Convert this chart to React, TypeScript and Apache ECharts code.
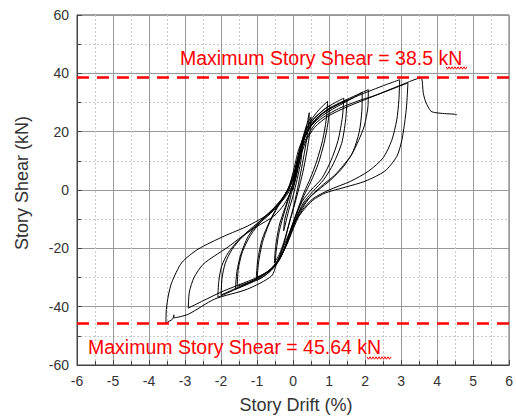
import React, { useEffect, useRef } from "react";
import * as echarts from "echarts";

// Story drift (%) vs story shear (kN), cycle by cycle
const cycle1 = [[0, 0], [0.1, 6], [0.2, 11], [0.25, 14], [0.22, 10], [0.12, 4], [0, -2], [-0.12, -7], [-0.22, -12], [-0.26, -14], [-0.23, -10], [-0.12, -5], [-0.02, 0]];
const cycle2 = [[0.08, 4], [0.2, 11], [0.3, 17], [0.38, 22], [0.45, 26.5], [0.43, 22], [0.36, 16], [0.26, 9], [0.15, 2], [0.03, -5], [-0.1, -11], [-0.22, -17], [-0.35, -22], [-0.5, -26], [-0.47, -21], [-0.38, -14], [-0.25, -8], [-0.1, -2]];
const cycle3 = [[0.02, 3], [0.14, 10], [0.26, 17], [0.37, 22], [0.5, 25], [0.47, 20], [0.38, 13], [0.27, 6], [0.15, 0], [0.02, -6], [-0.12, -12], [-0.26, -18], [-0.38, -22], [-0.52, -25], [-0.48, -19], [-0.38, -12], [-0.22, -6], [-0.08, -1]];
const cycle4 = [[0.05, 4], [0.18, 12], [0.3, 18], [0.45, 23], [0.65, 26.5], [0.82, 28.8], [0.96, 30.4], [0.92, 24], [0.82, 17], [0.66, 10], [0.48, 4], [0.3, -1], [0.12, -7], [-0.05, -13], [-0.2, -19], [-0.38, -24], [-0.6, -27.5], [-0.8, -29.5], [-1.0, -31], [-0.96, -25], [-0.85, -18], [-0.68, -12], [-0.48, -7], [-0.28, -3], [-0.12, 0]];
const cycle5 = [[0.0, 4], [0.15, 12], [0.3, 19], [0.5, 23.5], [0.72, 26], [0.88, 27.8], [1.02, 29], [0.97, 23], [0.86, 16], [0.7, 9], [0.5, 3], [0.3, -2], [0.1, -8], [-0.08, -14], [-0.24, -20], [-0.42, -24.5], [-0.65, -27.5], [-0.85, -29], [-1.02, -30], [-0.98, -24], [-0.86, -17], [-0.66, -11], [-0.45, -6], [-0.25, -2], [-0.1, 1]];
const cycle6 = [[0.05, 5], [0.2, 13], [0.35, 19], [0.55, 24], [0.8, 27], [1.1, 29.5], [1.41, 31.5], [1.37, 25], [1.25, 17], [1.05, 10], [0.8, 4], [0.5, 0], [0.25, -4], [0.05, -10], [-0.12, -16], [-0.3, -22], [-0.5, -26], [-0.8, -29.5], [-1.2, -32], [-1.6, -34], [-1.56, -28], [-1.45, -22], [-1.25, -16], [-0.95, -11], [-0.6, -7], [-0.3, -3], [-0.1, 1]];
const cycle7 = [[0.02, 5], [0.18, 13], [0.35, 19], [0.6, 24], [0.9, 27], [1.2, 29], [1.5, 31], [1.46, 24], [1.35, 16], [1.12, 9], [0.85, 3.5], [0.55, -0.5], [0.28, -4.5], [0.08, -10], [-0.1, -16], [-0.28, -21], [-0.5, -25.5], [-0.8, -29], [-1.2, -31.5], [-1.55, -33], [-1.52, -27], [-1.4, -21], [-1.18, -15.5], [-0.9, -11], [-0.55, -6.5], [-0.28, -2.5], [-0.08, 1.5]];
const cycle8 = [[0.05, 6], [0.2, 14], [0.4, 20], [0.65, 24.5], [1.0, 28], [1.4, 30.5], [1.75, 32.5], [2.09, 34.4], [2.08, 28.6], [1.98, 22], [1.82, 17], [1.62, 12], [1.4, 8.5], [1.15, 5], [0.85, 2], [0.5, -2], [0.22, -7], [0.02, -12], [-0.15, -18], [-0.35, -23], [-0.6, -27], [-1.0, -30.5], [-1.5, -33.5], [-2.09, -36.8], [-2.06, -31], [-1.98, -26], [-1.8, -21.5], [-1.5, -17], [-1.1, -12.5], [-0.7, -8.5], [-0.35, -4], [-0.12, 1]];
const cycle9 = [[0.0, 6], [0.16, 14], [0.38, 20], [0.66, 24], [1.0, 27], [1.4, 29.8], [1.7, 31.8], [1.92, 33.5], [1.91, 27], [1.84, 20], [1.66, 13], [1.4, 8], [1.05, 3.5], [0.7, 0], [0.38, -3.5], [0.15, -8], [-0.02, -13], [-0.2, -19], [-0.4, -24], [-0.7, -28], [-1.1, -31], [-1.55, -33.5], [-2.0, -36], [-1.97, -30], [-1.88, -25], [-1.7, -20.5], [-1.4, -16], [-1.0, -12], [-0.62, -8], [-0.3, -3.5], [-0.1, 1.5]];
const cycle10 = [[0.05, 7], [0.22, 15], [0.45, 21], [0.75, 25.5], [1.2, 29], [1.7, 31.8], [2.2, 34.3], [2.6, 36.2], [2.96, 37.8], [2.94, 31], [2.88, 24], [2.74, 17], [2.5, 11], [2.1, 6.5], [1.6, 3], [1.0, 0], [0.55, -3], [0.25, -7], [0.05, -12], [-0.15, -18], [-0.35, -23], [-0.6, -27], [-1.0, -30], [-1.5, -32.5], [-2.0, -35], [-2.5, -38], [-2.91, -40.5], [-2.88, -35], [-2.75, -30], [-2.5, -25.5], [-2.18, -22.6], [-1.8, -19.5], [-1.46, -16.3], [-1.0, -12.5], [-0.54, -9], [-0.25, -5], [-0.05, 0]];
const cycle11 = [[0.1, 8], [0.3, 16], [0.64, 23], [1.2, 27.5], [1.8, 30.5], [2.3, 32.5], [2.83, 35], [3.19, 36.7], [3.16, 30], [3.12, 25], [3.02, 17], [2.88, 11.5], [2.55, 6.5], [2.0, 3], [1.46, 1], [0.9, -1], [0.55, -3.5], [0.25, -7.5], [0.0, -12], [-0.25, -19], [-0.45, -25], [-0.6, -29.5], [-1.27, -34], [-2.18, -37.4], [-2.91, -42.6], [-3.3, -43.8], [-3.31, -42.8], [-3.34, -44.2], [-3.53, -45.6], [-3.52, -41], [-3.46, -36], [-3.37, -31.7], [-3.09, -24.9], [-2.64, -20.3], [-1.91, -15.8], [-1.27, -12.4], [-0.63, -7.8], [-0.25, -3], [0.0, 2]];
const finalPush = [[0.15, 9], [0.35, 16.5], [0.6, 21.5], [1.0, 25.5], [1.5, 28.5], [2.0, 31], [2.5, 33.5], [3.0, 36], [3.3, 37.5], [3.55, 38.5], [3.62, 33], [3.69, 30], [3.83, 27], [3.97, 26.5], [4.2, 26.2], [4.47, 26], [4.55, 25.8]];

const maxPositiveShear = 38.5;
const maxNegativeShear = -45.64;
const xTicks = [-6, 6, 1];
const yTicks = [-60, 60, 20];

function squiggle(x0: number, x1: number, y: number) {
  const pts: number[][] = [];
  let up = true;
  for (let x = x0; x <= x1; x += 1.5) {
    pts.push([x, up ? y - 1.2 : y + 1.2]);
    up = !up;
  }
  return pts;
}

export default function App() {
  const ref = useRef<HTMLDivElement>(null);
  useEffect(() => {
    if (!ref.current) return;
    const chart = echarts.init(ref.current, null, { renderer: "svg" });
    const data = [
      ...cycle1, ...cycle2, ...cycle3, ...cycle4, ...cycle5, ...cycle6,
      ...cycle7, ...cycle8, ...cycle9, ...cycle10, ...cycle11, ...finalPush,
    ];
    const font = "'Liberation Sans', Arial, sans-serif";
    chart.setOption({
      animation: false,
      backgroundColor: "#fff",
      grid: { left: 77, right: 1, top: 15, bottom: 52, show: true, borderColor: "#444", borderWidth: 1 },
      xAxis: {
        type: "value",
        min: xTicks[0],
        max: xTicks[1],
        interval: xTicks[2],
        axisLine: { show: true, onZero: false, lineStyle: { color: "#444", width: 1 } },
        axisTick: { show: true, inside: true, length: 5, lineStyle: { color: "#444" } },
        minorTick: { show: true, splitNumber: 2, length: 4, lineStyle: { color: "#444" } },
        axisLabel: { color: "#333", fontSize: 14, fontFamily: font, margin: 9 },
        splitLine: { show: true, lineStyle: { color: "#999", width: 1 } },
        minorSplitLine: { show: true, lineStyle: { color: "#c8c8c8", type: [2, 2], width: 1 } },
      },
      yAxis: {
        type: "value",
        min: yTicks[0],
        max: yTicks[1],
        interval: yTicks[2],
        axisLine: { show: true, onZero: false, lineStyle: { color: "#444", width: 1 } },
        axisTick: { show: true, inside: true, length: 5, lineStyle: { color: "#444" } },
        minorTick: { show: true, splitNumber: 2, length: 4, lineStyle: { color: "#444" } },
        axisLabel: { color: "#333", fontSize: 14, fontFamily: font, margin: 8 },
        splitLine: { show: true, lineStyle: { color: "#999", width: 1 } },
        minorSplitLine: { show: true, lineStyle: { color: "#c8c8c8", type: [2, 2], width: 1 } },
      },
      series: [
        {
          type: "line",
          data,
          showSymbol: false,
          symbol: "none",
          smooth: 0.25,
          lineStyle: { color: "#000", width: 1 },
          markLine: {
            silent: true,
            symbol: "none",
            label: { show: false },
            lineStyle: { color: "#ff0000", type: [12, 8], width: 2.5 },
            data: [{ yAxis: maxPositiveShear }, { yAxis: maxNegativeShear }],
          },
          z: 3,
        },
      ],
      graphic: [
        {
          type: "text",
          x: 180,
          y: 58,
          z: 10,
          style: {
            text: "Maximum Story Shear = " + maxPositiveShear + " kN",
            fill: "#ff0000",
            font: "19.5px " + font,
            verticalAlign: "middle",
            align: "left",
          },
        },
        {
          type: "text",
          x: 88,
          y: 347,
          z: 10,
          style: {
            text: "Maximum Story Shear = " + Math.abs(maxNegativeShear) + " kN",
            fill: "#ff0000",
            font: "19.5px " + font,
            verticalAlign: "middle",
            align: "left",
          },
        },
        {
          type: "polyline",
          z: 10,
          shape: { points: squiggle(446, 468, 68) },
          style: { stroke: "#ff0000", lineWidth: 1, fill: null },
        },
        {
          type: "polyline",
          z: 10,
          shape: { points: squiggle(367, 392, 358) },
          style: { stroke: "#ff0000", lineWidth: 1, fill: null },
        },
        {
          type: "text",
          x: 22,
          y: 183,
          rotation: Math.PI / 2,
          z: 10,
          style: {
            text: "Story Shear (kN)",
            fill: "#333",
            font: "18px " + font,
            align: "center",
            verticalAlign: "middle",
          },
        },
        {
          type: "text",
          x: 296,
          y: 405,
          z: 10,
          style: {
            text: "Story Drift (%)",
            fill: "#333",
            font: "18px " + font,
            align: "center",
            verticalAlign: "middle",
          },
        },
      ],
    });
    return () => chart.dispose();
  }, []);
  return (
    <div
      ref={ref}
      style={{ position: "fixed", left: 0, top: 0, width: 516, height: 417, background: "#fff" }}
    />
  );
}
